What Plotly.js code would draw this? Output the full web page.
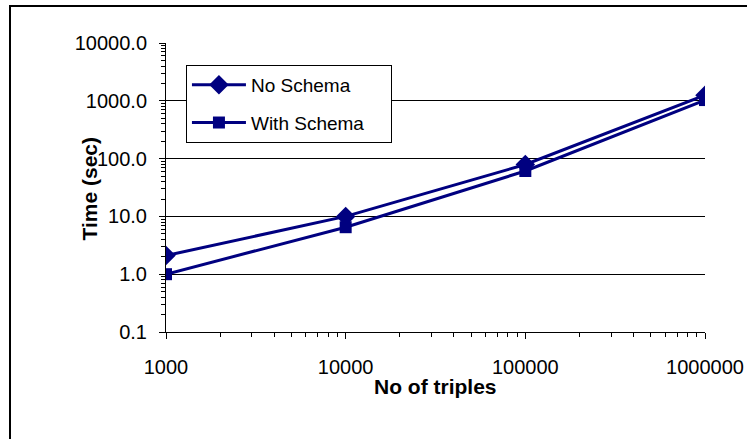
<!DOCTYPE html>
<html>
<head>
<meta charset="utf-8">
<script src="https://cdn.plot.ly/plotly-3.0.1.min.js"></script>
<style>
html,body{margin:0;padding:0;background:#fff;overflow:hidden;}
#chart{width:747px;height:439px;position:absolute;left:0;top:0;}
#frame{position:absolute;left:9px;top:5px;width:760px;height:460px;border-left:2px solid #000;border-top:2px solid #000;pointer-events:none;}
</style>
</head>
<body>
<div id="chart"></div>
<div id="frame"></div>
<script>
const triples = [1000, 10000, 100000, 1000000];
const noSchema = [2.1, 10, 79, 1250];
const withSchema = [1.0, 6.5, 61, 1030];
const seriesNames = ['No Schema', 'With Schema'];
const xTickVals = [1000, 10000, 100000, 1000000];
const xTickText = ['1000', '10000', '100000', '1000000'];
const yTickVals = [0.1, 1, 10, 100, 1000, 10000];
const yTickText = ['0.1', '1.0', '10.0', '100.0', '1000.0', '10000.0'];

const NAVY = '#000080';
const FONT = 'Liberation Sans, Arial, sans-serif';
const PAD = '&nbsp;&nbsp;&nbsp;&nbsp;';

const traces = [
  {x: triples, y: noSchema, name: seriesNames[0], mode: 'lines+markers', legendgroup: 'a',
   line: {color: NAVY, width: 3}, marker: {symbol: 'diamond', size: 15, color: NAVY}},
  {x: triples, y: withSchema, name: seriesNames[1] + PAD, mode: 'lines+markers', legendgroup: 'b',
   line: {color: NAVY, width: 3}, marker: {symbol: 'square', size: 12, color: NAVY}}
];

const layout = {
  width: 747, height: 439,
  margin: {l: 166, r: 42, t: 43, b: 107},
  paper_bgcolor: '#fff', plot_bgcolor: '#fff',
  font: {family: FONT, size: 19, color: '#000'},
  showlegend: true,
  legend: {x: 0.037, y: 0.924, xanchor: 'left', yanchor: 'top', bgcolor: '#fff',
           bordercolor: '#000', borderwidth: 1, font: {family: FONT, size: 19, color: '#000'},
           tracegroupgap: 10, traceorder: 'grouped', itemwidth: 54},
  xaxis: {type: 'log', range: [3, 6], tickmode: 'array', tickvals: xTickVals, ticktext: xTickText,
          showgrid: false, zeroline: false, showline: true, linecolor: '#000', linewidth: 1,
          ticks: 'outside', ticklen: 6, tickcolor: '#000', ticklabelstandoff: 11,
          minor: {ticks: 'outside', ticklen: 4, tickcolor: '#000', dtick: 'D1', showgrid: false},
          tickfont: {family: FONT, size: 20, color: '#000'}},
  yaxis: {type: 'log', range: [-1, 4], tickmode: 'array', tickvals: yTickVals, ticktext: yTickText,
          showgrid: true, gridcolor: '#000', gridwidth: 1, zeroline: false,
          showline: true, linecolor: '#000', linewidth: 1,
          ticks: 'outside', ticklen: 6, tickcolor: '#000', ticklabelstandoff: 8,
          minor: {ticks: 'outside', ticklen: 4, tickcolor: '#000', dtick: 'D1', showgrid: false},
          tickfont: {family: FONT, size: 20, color: '#000'}},
  annotations: [
    {text: '<b>Time (sec)</b>', xref: 'paper', yref: 'paper', x: (76 - 166) / 539, y: (332 - 243) / 289,
     showarrow: false, textangle: -90, font: {family: FONT, size: 21, color: '#000'}},
    {text: '<b>No of triples</b>', xref: 'paper', yref: 'paper', x: 0.5, y: (332 - 400) / 289,
     showarrow: false, font: {family: FONT, size: 21, color: '#000'}}
  ]
};

Plotly.newPlot('chart', traces, layout, {staticPlot: true, displayModeBar: false});
</script>
</body>
</html>
